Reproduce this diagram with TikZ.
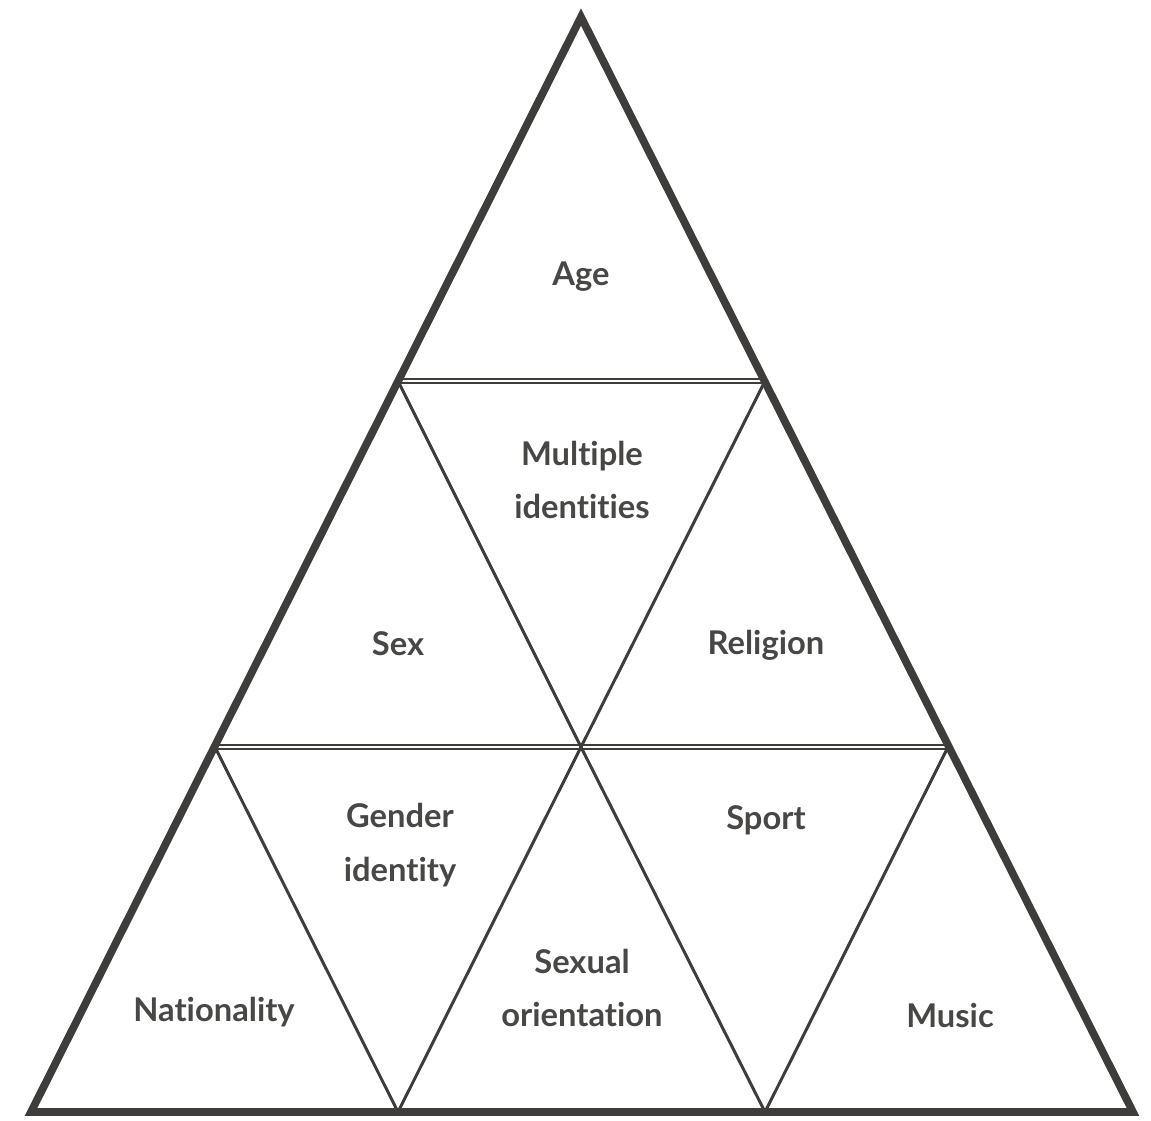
\documentclass[tikz,border=0pt]{standalone}
\usepackage{fontspec}
\setmainfont{Lato}[RawFeature=-liga]
\usepackage{xcolor,tikz}
\definecolor{ink}{RGB}{62,61,60}

\begin{document}
\begin{tikzpicture}[x=0.01cm,y=-0.01cm,
 lbl/.style={font=\bfseries\fontsize{9.3}{15.2}\selectfont,text=ink!95,align=center},
 edge/.style={draw=ink,line width=0.85pt},
 seam/.style={draw=ink,line width=0.48pt,double=white,double distance=0.5pt},
 rim/.style={draw=ink,line width=2.2pt,line join=miter}]
 \useasboundingbox (0,0) rectangle (1151,1120);
 % lattice points
 \coordinate (t) at (581,17);
 \coordinate (l1) at (398,381);\coordinate (r1) at (765,381);
 \coordinate (l2) at (215,747);\coordinate (m2) at (581,747);\coordinate (r2) at (948,747);
 \coordinate (b0) at (31,1112);\coordinate (b1) at (398,1112);
 \coordinate (b2) at (765,1112);\coordinate (b3) at (1133,1112);
 % rows, then the slanted sides
 \draw[seam] (l1)--(r1);\draw[seam] (l2)--(r2);
 \draw[edge] (l1)--(m2)--(r1);
 \draw[edge] (l2)--(b1)--(m2)--(b2)--(r2);
 \draw[rim] (t)--(b0)--(b3)--cycle;
 % labels
 \node[lbl] (age) at (581,277) {Age};
 \node[lbl] (mult) at (582,480) {Multiple\\identities};
 \node[lbl] (sex) at (398,644) {Sex};
 \node[lbl] (rel) at (766,645) {Religion};
 \node[lbl] (gen) at (400,845) {Gender\\identity};
 \node[lbl] (sport) at (766,820) {Sport};
 \node[lbl] (sexo) at (582,988) {Sexual\\orientation};
 \node[lbl] (nat) at (214,1012) {Nationality};
 \node[lbl] (music) at (950,1015) {Music};
\end{tikzpicture}
\end{document}
